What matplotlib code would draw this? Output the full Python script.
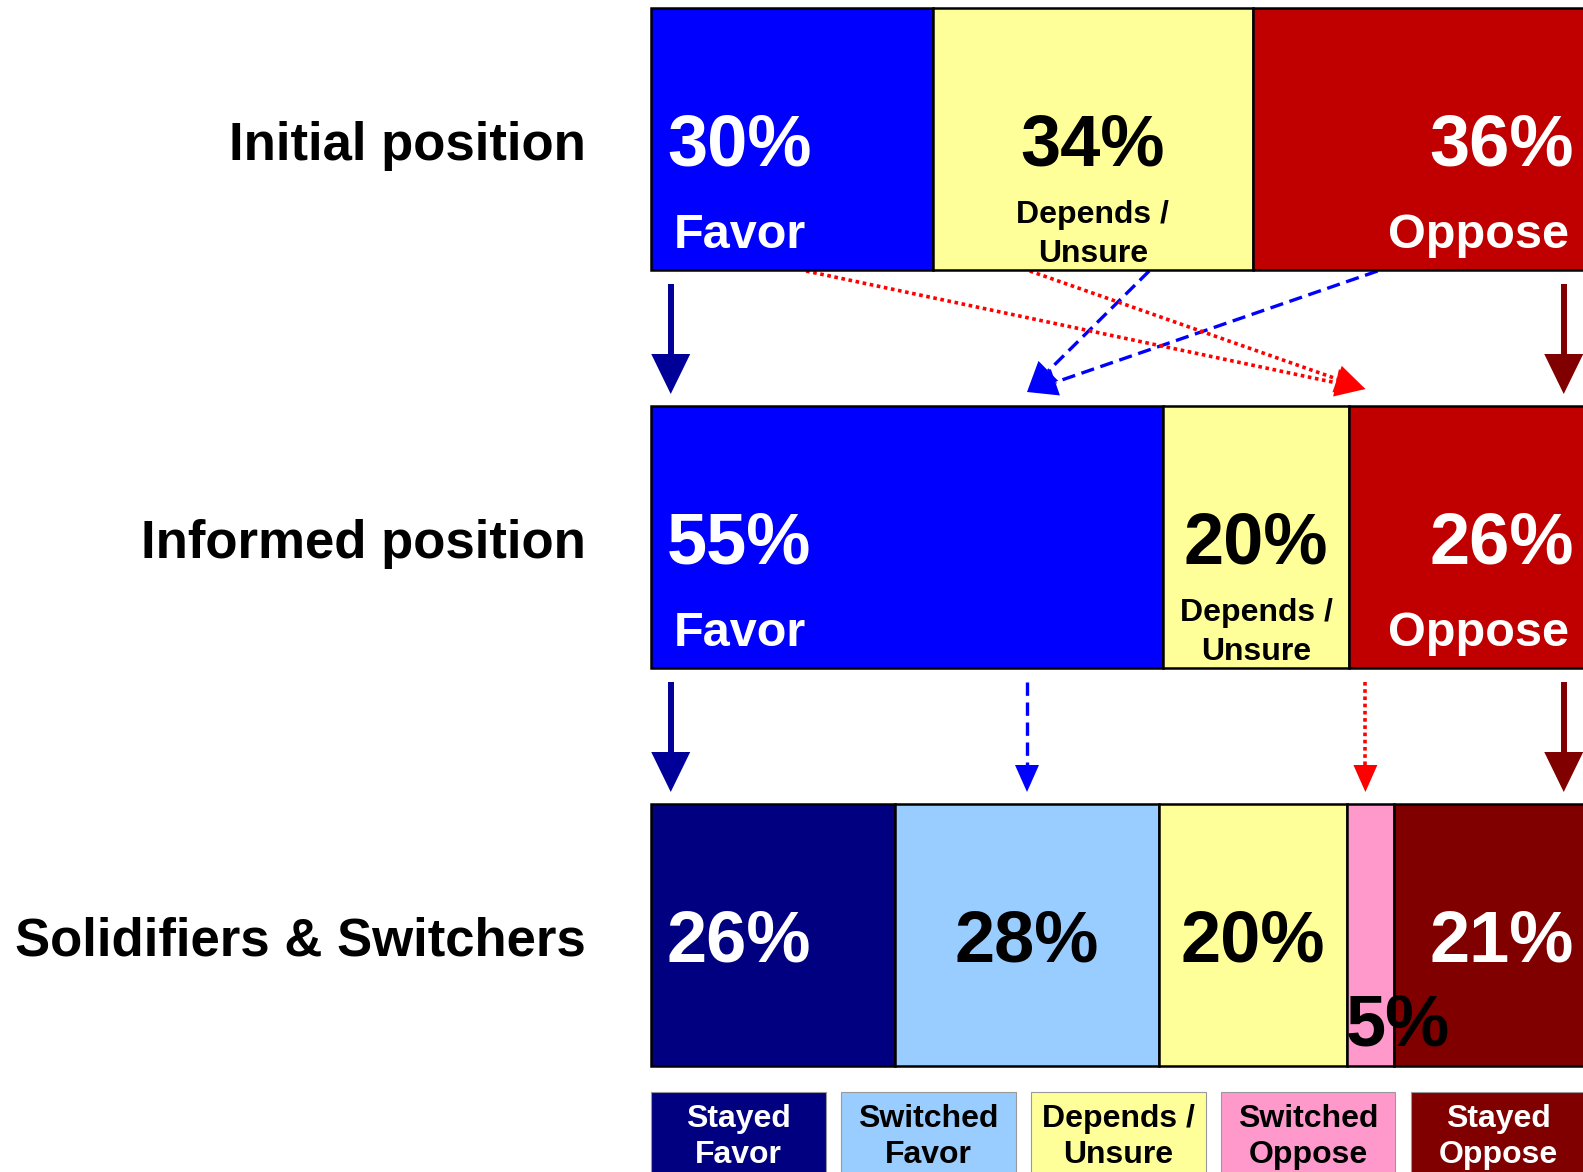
import numpy as np
import matplotlib
matplotlib.use("Agg")
import matplotlib.pyplot as plt
from matplotlib.patches import Polygon

plt.rcParams['font.family'] = ['Liberation Sans', 'DejaVu Sans']
plt.rcParams['font.weight'] = 'bold'

# data (percent)
rows = ['Initial position', 'Informed position', 'Solidifiers & Switchers']
initial = [30, 34, 36]
informed = [55, 20, 26]
final = [26, 28, 20, 5, 21]

top_colors = ['#0000FF', '#FFFF99', '#C00000']
final_colors = ['#000080', '#99CCFF', '#FFFF99', '#FF99CC', '#800000']
legend_labels = ['Stayed\nFavor', 'Switched\nFavor', 'Depends /\nUnsure',
                 'Switched\nOppose', 'Stayed\nOppose']
legend_text_colors = ['white', 'black', 'black', 'black', 'white']

# flows between rows (percent positions)
stay_favor_x, stay_oppose_x = 2.1, 97.1
to_favor_from = [53.0, 77.3]
to_favor_x = 40.0
to_oppose_from = [16.5, 40.3]
to_oppose_x = 76.0

W, H = 1583, 1172
px_per_pct = 9.4
bar_left_px = 651
fig = plt.figure(figsize=(W / 100, H / 100), dpi=100)
ax = fig.add_axes([0, 0, 1, 1])
ax.set_xlim(-bar_left_px / px_per_pct, (W - bar_left_px) / px_per_pct)
ax.set_ylim(H, 0)
ax.axis('off')

bar_h = 262
row_top = [8, 406, 804]

def draw_row(vals, colors, top):
    # each row is stretched to fill 100%
    w = np.array(vals, dtype=float)
    w = w / w.sum() * 100
    lefts = np.concatenate([[0], np.cumsum(w)[:-1]])
    ax.barh(top + bar_h / 2, w, left=lefts, height=bar_h, color=colors,
            edgecolor='black', linewidth=1.8, zorder=2)
    return lefts, w

big = 52
mid = 35
small = 23

for i, vals in enumerate([initial, informed]):
    top = row_top[i]
    lefts, w = draw_row(vals, top_colors, top)
    # favor
    ax.text(lefts[0] + 1.7, top + 158, f'{vals[0]}%', color='white',
            fontsize=big, ha='left', va='baseline', zorder=3)
    ax.text(lefts[0] + 2.4, top + 240, 'Favor', color='white',
            fontsize=mid, ha='left', va='baseline', zorder=3)
    # depends
    c = lefts[1] + w[1] / 2
    ax.text(c, top + 158, f'{vals[1]}%', color='black',
            fontsize=big, ha='center', va='baseline', zorder=3)
    ax.text(c, top + 215, 'Depends /', color='black',
            fontsize=small, ha='center', va='baseline', zorder=3)
    ax.text(c, top + 254, 'Unsure', color='black',
            fontsize=small, ha='center', va='baseline', zorder=3)
    # oppose
    ax.text(98.2, top + 158, f'{vals[2]}%', color='white',
            fontsize=big, ha='right', va='baseline', zorder=3)
    ax.text(97.7, top + 240, 'Oppose', color='white',
            fontsize=mid, ha='right', va='baseline', zorder=3)

top = row_top[2]
lefts, w = draw_row(final, final_colors, top)
ax.text(lefts[0] + 1.7, top + 158, f'{final[0]}%', color='white',
        fontsize=big, ha='left', va='baseline', zorder=3)
ax.text(lefts[1] + w[1] / 2, top + 158, f'{final[1]}%', color='black',
        fontsize=big, ha='center', va='baseline', zorder=3)
ax.text(lefts[2] + w[2] / 2, top + 158, f'{final[2]}%', color='black',
        fontsize=big, ha='center', va='baseline', zorder=3)
ax.text(lefts[3] - 0.1, top + 241, f'{final[3]}%', color='black',
        fontsize=big, ha='left', va='baseline', zorder=3)
ax.text(98.2, top + 158, f'{final[4]}%', color='white',
        fontsize=big, ha='right', va='baseline', zorder=3)

# row labels
for lab, t in zip(rows, row_top):
    ax.text((586 - bar_left_px) / px_per_pct, t + 152, lab, fontsize=38,
            ha='right', va='baseline', color='black')

# arrows
def flow(x0, y0, x1, y1, color, ls, lw, hl, hw):
    p0 = ax.transData.transform((x0, y0))
    p1 = ax.transData.transform((x1, y1))
    d = p1 - p0
    u = d / np.hypot(*d)
    n = np.array([-u[1], u[0]])
    base = p1 - u * hl
    inv = ax.transData.inverted()
    b = inv.transform(base)
    ax.plot([x0, b[0]], [y0, b[1]], color=color, linestyle=ls, lw=lw,
            solid_capstyle='butt', dash_capstyle='butt', zorder=1)
    pts = inv.transform([p1, base + n * hw / 2, base - n * hw / 2])
    ax.add_patch(Polygon(pts, closed=True, facecolor=color,
                         edgecolor='none', zorder=1))

navy_arrow = '#000099'
dred_arrow = '#800000'
for y0, y1 in [(284, 394), (682, 792)]:
    flow(stay_favor_x, y0, stay_favor_x, y1, navy_arrow, '-', 4.3, 40, 39)
    flow(stay_oppose_x, y0, stay_oppose_x, y1, dred_arrow, '-', 4.3, 40, 39)

for x0 in to_favor_from:
    flow(x0, 271, to_favor_x, 392, '#0000FF', (0, (4, 2)), 2.4, 30, 28)
for x0 in to_oppose_from:
    flow(x0, 271, to_oppose_x, 389, '#FF0000', (0, (1, 1)), 2.6, 30, 28)

flow(to_favor_x, 682, to_favor_x, 792, '#0000FF', (0, (4, 2)), 2.4, 27, 24)
flow(to_oppose_x, 682, to_oppose_x, 792, '#FF0000', (0, (1, 1)), 2.6, 27, 24)

# legend boxes
box_w, box_step = 18.6, 20.2
for i, (lab, col, tc) in enumerate(zip(legend_labels, final_colors, legend_text_colors)):
    x = i * box_step
    ax.add_patch(plt.Rectangle((x, 1092), box_w, 120, facecolor=col,
                               edgecolor='#999999', linewidth=0.8, zorder=2))
    l1, l2 = lab.split('\n')
    ax.text(x + box_w / 2, 1127, l1, color=tc, fontsize=23, ha='center',
            va='baseline', zorder=3)
    ax.text(x + box_w / 2, 1163, l2, color=tc, fontsize=23, ha='center',
            va='baseline', zorder=3)

fig.savefig('out.png', dpi=100)
